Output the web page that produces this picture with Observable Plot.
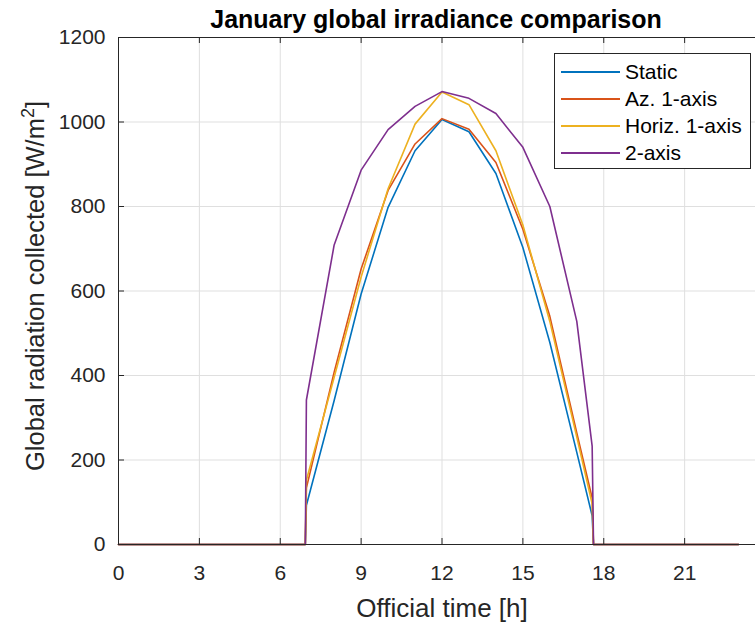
<!DOCTYPE html>
<html>
<head>
<meta charset="utf-8">
<script src="https://cdn.jsdelivr.net/npm/d3@7"></script>
<script src="https://cdn.jsdelivr.net/npm/@observablehq/plot@0.6"></script>
<style>
  body { margin: 0; background: #fff; }
  #wrap { position: relative; width: 755px; height: 623px; overflow: hidden; font-family: "Liberation Sans", Arial, sans-serif; }
  #wrap svg { display: block; }
  #legend { position: absolute; left: 554px; top: 53px; width: 197px; height: 116px; box-sizing: border-box;
            border: 1px solid #262626; background: #fff; padding-top: 4px; }
  .row { display: flex; align-items: center; height: 27px; }
  .sw { width: 59px; height: 0; margin-left: 6px; }
  .lb { margin-left: 5px; font-size: 21px; color: #000; white-space: nowrap; }
</style>
</head>
<body>
<div id="wrap"></div>
<script>
// ---- data ----
const titleText = "January global irradiance comparison";
const xLabelText = "Official time [h]";
const yLabelMain = "Global radiation collected [W/m";
const yLabelSup = "2";
const yLabelEnd = "]";
const seriesNames = ["Static", "Az. 1-axis", "Horiz. 1-axis", "2-axis"];
const seriesColors = ["#0072BD", "#D95319", "#EDB120", "#7E2F8E"];
const hours       = [0, 6.93, 6.97, 8,   9,   10,  11,   12,   13,   14,   15,  16,  17,  17.57, 17.62, 23];
const staticVals  = [0, 0,    93,  341, 593, 798, 932,  1006, 977,  878,  703, 478, 218, 68,    0,     0];
const az1Vals     = [0, 0,    134, 408, 652, 838, 948,  1008, 983,  904,  746, 540, 264, 110,   0,     0];
const horiz1Vals  = [0, 0,    152, 396, 633, 842, 995,  1071, 1041, 932,  756, 528, 254, 96,    0,     0];
const twoAxisVals = [0, 0,    342, 709, 886, 982, 1037, 1072, 1056, 1020, 940, 800, 528, 233,   0,     0];
const xTicks = [0, 3, 6, 9, 12, 15, 18, 21];
const yTicks = [0, 200, 400, 600, 800, 1000, 1200];

const valueLists = [staticVals, az1Vals, horiz1Vals, twoAxisVals];
const rows = [];
seriesNames.forEach((name, i) => {
  hours.forEach((h, j) => rows.push({series: name, hour: h, value: valueLists[i][j]}));
});

const W = 755, H = 623;
const mL = 118, mR = -10, mT = 37, mB = 79;
const frameW = W - mL - mR, frameH = H - mT - mB;
const tick = 6;
const axisColor = "#262626";
const gridColor = "#dfdfdf";
const yLabelFull = yLabelMain + yLabelSup + yLabelEnd;

const chart = Plot.plot({
  width: W,
  height: H,
  marginLeft: mL,
  marginRight: mR,
  marginTop: mT,
  marginBottom: mB,
  style: {fontFamily: "Liberation Sans, Arial, sans-serif", background: "#fff", overflow: "hidden"},
  x: {domain: [0, 24]},
  y: {domain: [0, 1200]},
  color: {domain: seriesNames, range: seriesColors},
  marks: [
    Plot.gridX(xTicks, {stroke: gridColor, strokeOpacity: 1}),
    Plot.gridY(yTicks, {stroke: gridColor, strokeOpacity: 1}),
    Plot.line(rows, {x: "hour", y: "value", z: "series", stroke: "series", strokeWidth: 1.6}),
    Plot.frame({stroke: axisColor}),
    // inward tick marks
    Plot.ruleX(xTicks, {x: d => d, stroke: axisColor, insetTop: frameH - tick}),
    Plot.ruleX(xTicks, {x: d => d, stroke: axisColor, insetBottom: frameH - tick}),
    Plot.ruleY(yTicks, {y: d => d, stroke: axisColor, insetRight: frameW - tick}),
    Plot.axisX(xTicks, {tickSize: 0, tickPadding: 21, fontSize: 21, fill: axisColor, label: null, tickFormat: d => String(d)}),
    Plot.axisY(yTicks, {tickSize: 0, tickPadding: 13, fontSize: 21, fill: axisColor, label: null, tickFormat: d => String(d)}),
    Plot.text([titleText], {text: d => d, frameAnchor: "top", lineAnchor: "bottom", dy: -10, dx: -6,
      fontSize: 25, fontWeight: "bold", fill: "#000"}),
    Plot.text([xLabelText], {text: d => d, frameAnchor: "bottom", lineAnchor: "bottom", dy: 72,
      fontSize: 26, fill: axisColor}),
    Plot.text([yLabelFull], {text: d => d, frameAnchor: "left", textAnchor: "middle", rotate: -90, lineAnchor: "bottom",
      dx: -75, dy: -5, fontSize: 25.5, fill: axisColor})
  ]
});

// turn the "2" of the unit into a real superscript
for (const t of chart.querySelectorAll("text")) {
  if (t.textContent === yLabelFull) {
    t.textContent = "";
    const ns = "http://www.w3.org/2000/svg";
    const a = document.createElementNS(ns, "tspan"); a.textContent = yLabelMain;
    const b = document.createElementNS(ns, "tspan"); b.textContent = yLabelSup;
    b.setAttribute("font-size", "18"); b.setAttribute("dy", "-10");
    const c = document.createElementNS(ns, "tspan"); c.textContent = yLabelEnd;
    c.setAttribute("dy", "10");
    t.appendChild(a); t.appendChild(b); t.appendChild(c);
  }
}

const wrap = document.getElementById("wrap");
wrap.appendChild(chart);

// legend
const legend = document.createElement("div");
legend.id = "legend";
seriesNames.forEach((name, i) => {
  const r = document.createElement("div");
  r.className = "row";
  const s = document.createElement("span");
  s.className = "sw";
  s.style.borderTop = `2px solid ${seriesColors[i]}`;
  const l = document.createElement("span");
  l.className = "lb";
  l.textContent = name;
  r.appendChild(s); r.appendChild(l);
  legend.appendChild(r);
});
wrap.appendChild(legend);
</script>
</body>
</html>
